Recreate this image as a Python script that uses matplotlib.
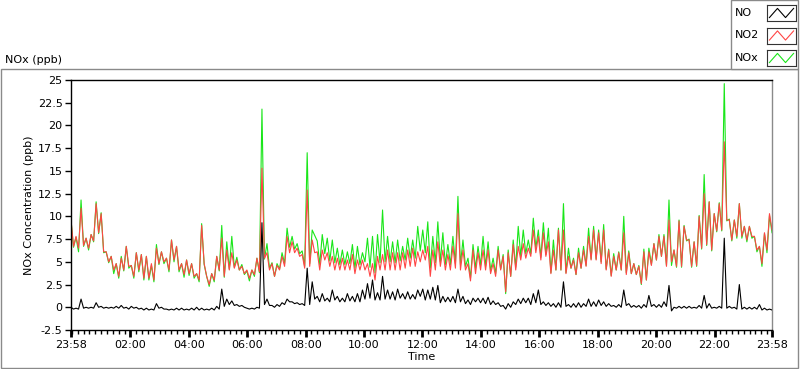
import datetime as dt
import matplotlib
matplotlib.use("Agg")
from matplotlib import pyplot as plt
import matplotlib.dates as mdates
from matplotlib.patches import Rectangle

# values, two samples (high, low) per ~10 minute slot
no2 = [9.6, 6.7, 7.8, 6.5, 10.9, 6.8, 7.6, 6.5, 8.0, 7.3, 11.4, 8.2, 10.3, 6.1, 6.1, 5.0,
       5.6, 4.1, 4.8, 3.4, 5.4, 4.1, 6.7, 4.5, 4.6, 3.4, 6.0, 4.1, 5.8, 3.2, 5.6, 3.2,
       4.8, 3.0, 6.5, 4.8, 6.1, 5.0, 5.4, 4.1, 7.4, 5.2, 6.7, 4.1, 4.8, 3.6, 5.2, 3.7,
       4.8, 3.4, 3.7, 3.0, 9.0, 4.8, 3.4, 2.5, 3.7, 3.0, 5.6, 4.1, 7.6, 3.4, 6.3, 4.1,
       6.0, 4.3, 5.2, 4.1, 4.5, 3.7, 4.1, 3.2, 4.1, 3.6, 5.4, 3.9, 15.3, 5.4, 6.0, 4.1,
       4.8, 3.4, 4.6, 4.1, 5.6, 4.5, 7.8, 6.0, 7.2, 6.0, 6.5, 5.6, 5.8, 4.3, 12.9, 4.5,
       7.4, 6.0, 6.1, 4.1, 6.3, 5.2, 6.0, 4.5, 5.6, 4.1, 5.4, 4.1, 5.4, 4.1, 5.2, 4.1,
       5.8, 3.7, 5.2, 4.1, 5.2, 4.1, 4.8, 3.4, 4.8, 3.0, 5.6, 4.1, 5.8, 4.1, 6.3, 4.1,
       6.0, 4.1, 6.0, 4.1, 6.0, 4.3, 6.3, 4.5, 6.5, 4.5, 6.1, 5.0, 6.3, 5.2, 6.7, 3.4,
       6.3, 4.1, 7.2, 4.5, 6.3, 4.1, 5.8, 4.1, 6.7, 4.3, 10.3, 4.1, 6.3, 4.1, 4.8, 2.9,
       6.3, 3.7, 6.0, 4.1, 6.3, 4.1, 6.3, 3.7, 4.8, 3.4, 6.3, 4.1, 5.6, 1.7, 6.0, 3.4,
       6.9, 4.1, 6.7, 5.2, 7.0, 5.4, 6.5, 5.6, 8.5, 6.0, 7.8, 5.2, 8.2, 5.6, 7.2, 3.7,
       6.3, 4.1, 8.5, 4.1, 8.5, 3.7, 5.6, 4.3, 5.2, 3.6, 6.0, 4.3, 6.3, 4.5, 7.8, 5.2,
       8.5, 5.2, 8.2, 4.8, 8.5, 4.1, 6.3, 3.4, 5.6, 4.1, 6.0, 4.1, 8.2, 3.6, 6.0, 3.7,
       4.8, 3.6, 4.5, 2.6, 6.1, 3.0, 6.1, 4.6, 7.0, 5.2, 7.8, 5.6, 7.8, 4.5, 9.6, 5.0,
       6.3, 4.5, 9.5, 4.5, 8.9, 7.4, 7.4, 4.5, 7.2, 4.6, 10.0, 6.5, 12.5, 6.9, 11.6, 6.3,
       10.3, 8.4, 11.4, 8.5, 18.2, 9.6, 9.6, 7.4, 9.6, 7.8, 11.4, 7.8, 8.9, 7.4, 8.9, 7.8,
       7.8, 6.3, 6.7, 4.8, 8.2, 6.3, 10.3, 8.5]

nox = [9.6, 6.6, 7.7, 6.1, 11.8, 6.7, 7.6, 6.3, 8.0, 7.2, 11.6, 8.1, 10.4, 6.0, 6.1, 4.9,
       5.6, 3.7, 4.8, 3.2, 5.6, 4.0, 6.7, 4.3, 4.6, 3.2, 6.0, 3.9, 5.8, 3.0, 5.6, 3.0,
       4.6, 2.8, 6.9, 4.7, 6.1, 4.8, 5.4, 3.9, 7.4, 5.0, 6.7, 3.9, 4.8, 3.3, 5.2, 3.5,
       4.8, 3.2, 3.7, 2.8, 9.2, 4.7, 3.4, 2.3, 3.7, 2.8, 5.6, 4.0, 9.0, 3.3, 7.2, 4.2,
       7.8, 4.4, 5.5, 4.1, 4.7, 3.6, 4.0, 2.9, 4.1, 3.4, 5.4, 3.8, 21.8, 5.3, 7.0, 4.3,
       4.9, 3.4, 4.8, 4.2, 6.0, 4.8, 8.7, 6.6, 7.8, 6.4, 7.0, 5.9, 6.2, 4.5, 17.0, 4.8,
       8.5, 7.9, 7.3, 4.7, 8.0, 5.9, 7.6, 5.1, 7.4, 4.9, 6.5, 4.7, 6.3, 4.7, 6.1, 4.8,
       6.9, 4.3, 6.7, 4.7, 6.0, 5.0, 7.6, 4.4, 7.8, 3.8, 8.0, 4.9, 10.7, 5.0, 7.8, 5.0,
       7.2, 4.9, 7.4, 5.1, 6.7, 5.2, 7.6, 5.4, 7.4, 5.4, 8.9, 6.2, 8.5, 6.0, 9.4, 4.3,
       7.8, 4.9, 9.4, 5.0, 8.2, 4.7, 6.9, 4.7, 7.8, 4.8, 12.2, 4.7, 7.4, 4.5, 5.4, 3.2,
       6.9, 4.3, 6.7, 4.6, 7.8, 4.5, 7.2, 4.0, 5.4, 3.7, 6.7, 4.2, 5.8, 1.5, 6.3, 3.4,
       7.4, 4.4, 8.9, 5.6, 8.5, 5.9, 7.4, 5.9, 9.8, 6.5, 8.5, 5.5, 9.3, 5.8, 8.7, 3.8,
       7.4, 4.1, 8.7, 4.1, 11.4, 3.8, 6.5, 4.3, 5.4, 3.6, 6.5, 4.3, 6.7, 4.6, 8.7, 5.3,
       8.9, 5.3, 8.5, 5.0, 9.1, 4.2, 6.4, 3.5, 5.9, 4.1, 6.1, 4.1, 10.0, 3.8, 6.2, 3.7,
       4.8, 3.6, 4.6, 2.5, 6.4, 3.0, 6.5, 4.7, 7.0, 5.2, 8.0, 5.6, 8.0, 4.6, 11.8, 4.6,
       6.3, 4.4, 9.6, 4.4, 9.0, 7.3, 7.5, 4.4, 7.2, 4.5, 10.1, 6.4, 14.6, 6.8, 11.6, 6.2,
       10.3, 8.3, 11.5, 8.4, 24.6, 9.5, 9.7, 7.3, 9.6, 7.6, 11.4, 7.6, 8.9, 7.2, 8.9, 7.6,
       7.8, 6.1, 6.7, 4.5, 8.1, 6.0, 10.1, 8.2]

no = [0.0, -0.2, -0.1, -0.2, 0.9, -0.1, 0.0, -0.1, 0.0, -0.1, 0.5, 0.0, 0.1, -0.1, 0.0, -0.1,
      0.0, -0.1, 0.1, -0.1, 0.2, -0.1, 0.0, -0.2, 0.1, -0.1, 0.0, -0.2, -0.1, -0.3, -0.1, -0.3,
      -0.2, -0.3, 0.4, -0.1, 0.0, -0.2, -0.2, -0.3, -0.2, -0.3, -0.1, -0.3, -0.1, -0.3, -0.2, -0.3,
      -0.1, -0.3, 0.0, -0.3, -0.1, -0.3, -0.2, -0.3, -0.1, -0.3, 0.1, -0.2, 2.0, 0.1, 0.9, 0.3,
      0.7, 0.2, 0.3, 0.1, 0.2, 0.0, -0.1, -0.2, -0.1, -0.2, 0.0, -0.1, 9.3, 0.3, 0.9, 0.2,
      0.2, 0.0, 0.3, 0.1, 0.5, 0.3, 0.9, 0.6, 0.6, 0.4, 0.5, 0.3, 0.4, 0.2, 4.3, 0.3,
      2.8, 0.9, 1.2, 0.6, 1.5, 0.7, 1.0, 0.6, 1.9, 0.8, 1.2, 0.6, 1.0, 0.6, 1.5, 0.7,
      1.2, 0.6, 1.5, 0.6, 1.9, 0.9, 2.6, 1.0, 3.0, 0.8, 1.6, 0.8, 3.4, 0.9, 1.9, 0.9,
      1.7, 0.8, 2.0, 1.0, 1.5, 0.9, 1.7, 0.9, 1.4, 0.9, 1.9, 1.2, 2.0, 0.8, 1.9, 0.9,
      2.2, 0.8, 2.4, 0.5, 1.2, 0.6, 1.1, 0.6, 1.2, 0.5, 2.0, 0.6, 1.2, 0.4, 0.8, 0.3,
      1.0, 0.6, 1.0, 0.5, 1.0, 0.4, 1.1, 0.3, 0.7, 0.3, 0.5, 0.1, 0.2, -0.2, 0.4, 0.0,
      0.6, 0.3, 0.9, 0.4, 1.0, 0.5, 1.0, 0.3, 1.5, 0.5, 1.9, 0.3, 0.6, 0.2, 0.5, 0.1,
      0.4, 0.0, 0.5, 0.0, 2.8, 0.1, 0.3, 0.0, 0.4, 0.0, 0.5, 0.0, 0.4, 0.1, 0.9, 0.1,
      0.6, 0.1, 0.8, 0.2, 0.6, 0.1, 0.4, 0.1, 0.2, 0.0, 0.3, 0.0, 1.9, 0.2, 0.4, 0.0,
      0.2, 0.0, 0.2, -0.1, 0.3, 0.0, 1.3, 0.1, 0.3, 0.0, 0.3, 0.0, 0.6, 0.1, 2.4, -0.4,
      0.0, -0.1, 0.1, -0.1, 0.1, -0.1, 0.1, -0.1, 0.0, -0.1, 0.2, -0.1, 1.3, -0.1, 0.4, -0.1,
      0.0, -0.1, 0.1, -0.1, 7.6, -0.1, 0.1, -0.1, 0.0, -0.2, 2.5, -0.2, 0.0, -0.2, 0.0, -0.2,
      0.0, -0.2, 0.3, -0.3, -0.1, -0.3, -0.2, -0.3]

series_names = ["NO", "NO2", "NOx"]
series_colors = ["black", "#ff4545", "#19e619"]
y_ticks = [-2.5, 0, 2.5, 5, 7.5, 10, 12.5, 15, 17.5, 20, 22.5, 25]

start = dt.datetime(2024, 1, 1, 23, 58)
end = start + dt.timedelta(hours=24)
n = len(no2)
times = [start + (end - start) * k / (n - 1) for k in range(n)]

W, H = 800, 369
fig = plt.figure(figsize=(W / 100, H / 100), dpi=100)
plt.rcParams['font.family'] = ['DejaVu Sans']
fs = 8

def fx(x):
    return x / W

def fy(y):
    return 1 - y / H

# outer panel frame and legend box
fig.patches.append(Rectangle((fx(0.5), fy(368)), fx(797.5), fy(69) - fy(368), transform=fig.transFigure,
                             fill=False, edgecolor="#8a8a8a", lw=1))
fig.patches.append(Rectangle((fx(730.5), fy(69)), fx(67.5), fy(0.5) - fy(69), transform=fig.transFigure,
                             facecolor="white", edgecolor="#8a8a8a", lw=1, zorder=2))
fig.text(fx(5), fy(60), "NOx (ppb)", fontsize=fs, va="center", ha="left")

for i, (name, col) in enumerate(zip(series_names, series_colors)):
    yc = 13 + i * 22.5
    fig.text(fx(735), fy(yc), name, fontsize=fs, va="center", ha="left", zorder=3)
    iax = fig.add_axes([fx(767), fy(yc + 8), fx(29), fy(yc - 8) - fy(yc + 8)], zorder=3)
    iax.plot([0, 1, 2, 3], [0.1, 0.9, 0.1, 0.9], color=col, lw=0.8)
    iax.set_xlim(-0.3, 3.3)
    iax.set_ylim(-0.2, 1.2)
    iax.set_xticks([])
    iax.set_yticks([])
    for s in iax.spines.values():
        s.set_color("#333333")
        s.set_linewidth(0.8)

ax = fig.add_axes([fx(71), fy(330), fx(701), fy(80) - fy(330)])
ax.plot(times, nox, color=series_colors[2], lw=0.8, zorder=1)
ax.plot(times, no2, color=series_colors[1], lw=0.8, zorder=2)
ax.plot(times, no, color=series_colors[0], lw=0.8, zorder=3)

ax.set_xlim(start, end)
ax.set_ylim(-2.5, 25)
ax.set_yticks(y_ticks)
ax.set_yticklabels([f"{v:g}" for v in y_ticks], fontsize=fs)
major = [start] + [dt.datetime(2024, 1, 2, h) for h in range(2, 24, 2)] + [end]
ax.set_xticks(major)
ax.xaxis.set_major_formatter(mdates.DateFormatter("%H:%M"))
ax.xaxis.set_minor_locator(mdates.MinuteLocator(byminute=range(0, 60, 12)))
ax.tick_params(axis="x", which="major", length=5, width=2, labelsize=fs, pad=2)
ax.tick_params(axis="x", which="minor", length=3, width=1)
ax.tick_params(axis="y", length=4, width=1, labelsize=fs, pad=2)
ax.set_ylabel("NOx Concentration (ppb)", fontsize=fs, labelpad=3)
ax.set_xlabel("Time", fontsize=fs, labelpad=2)
ax.spines["right"].set_color("#8a8a8a")
for s in ["left", "bottom", "top"]:
    ax.spines[s].set_color("black")
for s in ax.spines.values():
    s.set_linewidth(1)

fig.savefig("out.png", dpi=100)
